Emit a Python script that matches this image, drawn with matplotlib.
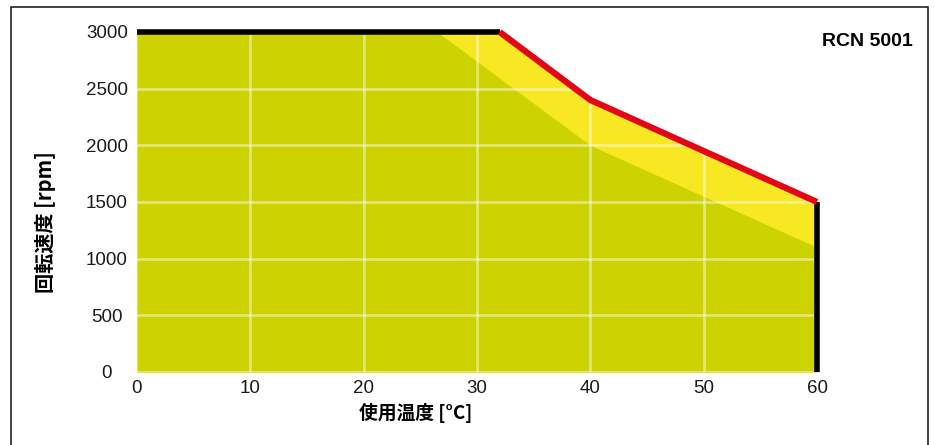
import matplotlib.pyplot as plt
import matplotlib.patches as patches
import numpy as np

plt.rcParams['font.family'] = ['Liberation Sans', 'Noto Sans CJK JP', 'DejaVu Sans']

# speed limit curves vs. operating temperature
temp_upper = [0, 32, 40, 60]
speed_upper = [3000, 3000, 2400, 1500]
temp_lower = [0, 26.5, 40, 60]
speed_lower = [3000, 3000, 2000, 1100]

x_ticks = [0, 10, 20, 30, 40, 50, 60]
y_ticks = [0, 500, 1000, 1500, 2000, 2500, 3000]

GREEN = '#cdd300'
YELLOW = '#f8e824'
RED = '#e30613'

fig = plt.figure(figsize=(9.34, 4.45), dpi=100)
ax = fig.add_axes([137 / 934, 73 / 445, 680 / 934, 340 / 445])

ax.fill_between(temp_upper, speed_upper, 0, color=YELLOW, lw=0, zorder=1)
ax.fill_between(temp_lower, speed_lower, 0, color=GREEN, lw=0, zorder=2)

# grid only shows over the filled region
for xv in x_ticks[1:-1]:
    top = np.interp(xv, temp_upper, speed_upper)
    ax.plot([xv, xv], [0, top], color='white', alpha=0.45, lw=2, zorder=3)
for yv in y_ticks[1:-1]:
    right = np.interp(yv, speed_upper[::-1], temp_upper[::-1])
    ax.plot([0, right], [yv, yv], color='white', alpha=0.45, lw=2, zorder=3)
ax.plot([0, 60], [0, 0], color='white', alpha=0.45, lw=2, zorder=3)

ax.plot(temp_upper[:2], speed_upper[:2], color='black', lw=4,
        solid_capstyle='butt', zorder=5, clip_on=False)
ax.plot(temp_upper[1:], speed_upper[1:], color=RED, lw=4.5,
        solid_capstyle='butt', solid_joinstyle='miter', zorder=6, clip_on=False)
ax.plot([60, 60], [speed_upper[-1], 0], color='black', lw=4,
        solid_capstyle='butt', zorder=5, clip_on=False)

ax.set_xlim(0, 60)
ax.set_ylim(0, 3000)
ax.set_xticks(x_ticks)
ax.set_yticks(y_ticks)
ax.tick_params(length=0, labelsize=13.5, colors='#1a1a1a')
ax.tick_params(axis='x', pad=6)
# y labels sit centred in a column left of the plot
ax.tick_params(axis='y', pad=21.6)
for lbl in ax.get_yticklabels():
    lbl.set_horizontalalignment('center')
for s in ax.spines.values():
    s.set_visible(False)

cjk = ['Noto Sans CJK JP', 'DejaVu Sans']
fig.text(416 / 934, 1 - 413 / 445, '使用温度 [°C]', ha='center', va='center',
         fontsize=13.5, fontweight='bold', family=cjk)
fig.text(46 / 934, 1 - 222 / 445, '回転速度 [rpm]', ha='center', va='center',
         rotation=90, fontsize=14.5, fontweight='bold', family=cjk)
fig.text(913 / 934, 1 - 42 / 445, 'RCN 5001', ha='right', va='center',
         fontsize=14, fontweight='bold')

fig.patches.append(patches.Rectangle((11 / 934, -0.01), 917 / 934, 1 - 7 / 445 + 0.01,
                                     transform=fig.transFigure, fill=False,
                                     edgecolor='#222222', lw=1.2))

fig.savefig('out.png', dpi=100)
